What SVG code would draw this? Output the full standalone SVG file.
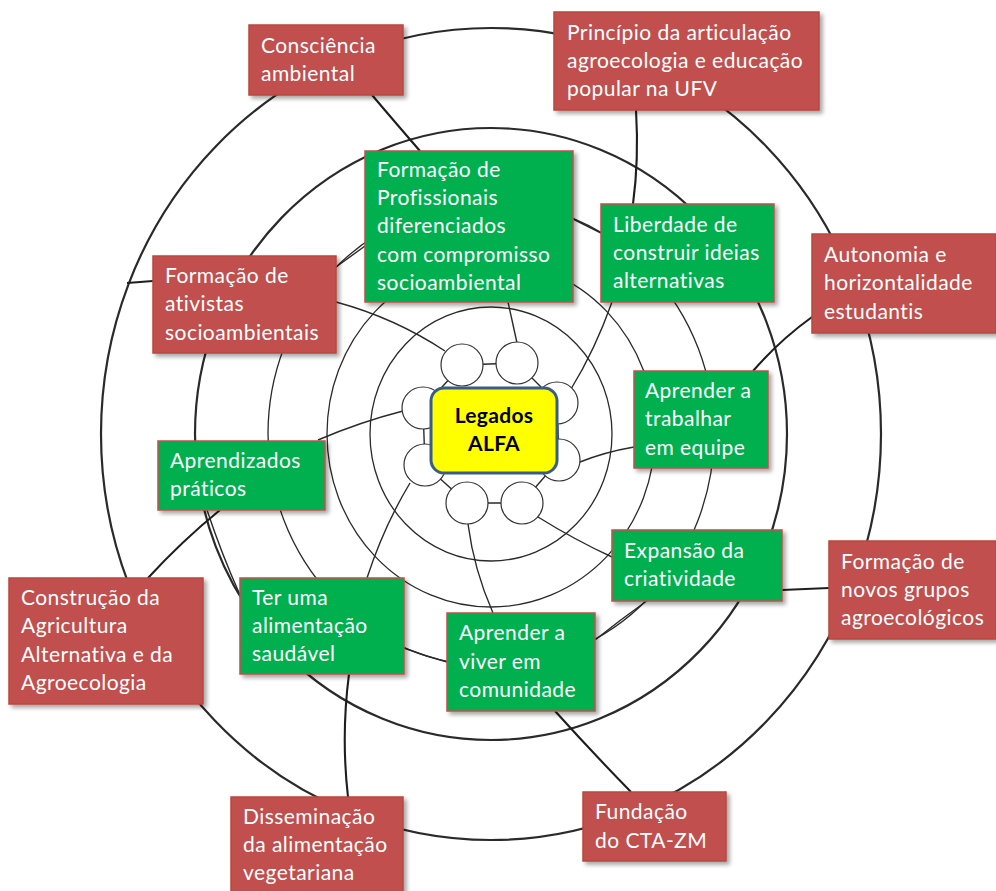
<svg xmlns="http://www.w3.org/2000/svg" width="996" height="891" viewBox="0 0 996 891">
  <defs>
    <filter id="shadow" x="-10%" y="-10%" width="130%" height="140%">
      <feDropShadow dx="3" dy="3" stdDeviation="2" flood-color="#000" flood-opacity="0.35"/>
    </filter>
    <style>
      .ring { fill: none; stroke: #2a2a2a; }
      .thin { stroke-width: 1.3; }
      .thick { stroke-width: 2.2; }
      .link { fill: none; stroke: #2a2a2a; stroke-width: 1.4; }
      .link-strong { fill: none; stroke: #1e1e1e; stroke-width: 2.1; }
      .dot { fill: #ffffff; stroke: #333333; stroke-width: 1.2; }
      .red rect { fill: #C0504D; stroke: #B9473F; stroke-width: 1.5; filter: url(#shadow); }
      .green rect { fill: #00B050; stroke: #C0504D; stroke-width: 1.5; filter: url(#shadow); }
      .red text, .green text { fill: #ffffff; font-family: Lato, "Liberation Sans", sans-serif; font-size: 21px; letter-spacing: 0.45px; }
      .core rect { fill: #FFFF00; stroke: #385D8A; stroke-width: 3; }
      .core text { fill: #000000; font-family: Lato, "Liberation Sans", sans-serif; font-size: 21px; font-weight: bold; text-anchor: middle; letter-spacing: 0.3px; }
    </style>
  </defs>

  <rect width="996" height="891" fill="#ffffff"/>

  <!-- concentric rings -->
  <g id="rings">
    <ellipse class="ring thin" cx="491" cy="434" rx="121" ry="127"/>
    <ellipse class="ring thin" cx="491" cy="434" rx="164" ry="173"/>
    <ellipse class="ring thin" cx="491" cy="434" rx="223" ry="232"/>
    <ellipse class="ring thick" cx="491" cy="434" rx="296" ry="306"/>
    <ellipse class="ring thick" cx="491" cy="434" rx="390" ry="406"/>
  </g>

  <!-- connectors -->
  <g id="connectors">
    <path class="link-strong" d="M372,95 Q394,121 420,151"/>
    <path class="link" d="M336,267 L365,246"/>
    <path class="link-strong" d="M127,283 L153,281"/>
    <path class="link" d="M336,302 Q395,318 445,351"/>
    <path class="link-strong" d="M636,110 Q639,160 633,204"/>
    <path class="link" d="M573,219 L601,233"/>
    <path class="link" d="M612,302 Q595,350 571,389"/>
    <path class="link-strong" d="M812,317 Q780,340 753,371"/>
    <path class="link" d="M580,462 Q605,452 634,447"/>
    <path class="link-strong" d="M782,590 L829,588"/>
    <path class="link" d="M538,517 Q575,540 612,557"/>
    <path class="link" d="M648,600 Q620,620 595,640"/>
    <path class="link" d="M468,524 Q474,570 493,613"/>
    <path class="link-strong" d="M555,711 Q592,752 631,792"/>
    <path class="link" d="M404,648 Q425,656 447,662"/>
    <path class="link" d="M410,483 Q384,526 367,578"/>
    <path class="link-strong" d="M349,674 Q341,736 348,797"/>
    <path class="link" d="M207,510 Q222,555 240,595"/>
    <path class="link-strong" d="M220,510 Q182,541 148,578"/>
    <path class="link" d="M403,411 Q360,422 318,440"/>
    <path class="link" d="M517,343 Q512,320 508,302"/>
  </g>

  <!-- ring of small circles around the core -->
  <g id="hub">
    <path class="link" d="M462,365 L517,363 L557,403 L559,460 L522,503 L467,503 L425,465 L423,408 Z"/>
    <circle class="dot" cx="462" cy="365" r="21"/>
    <circle class="dot" cx="517" cy="363" r="21"/>
    <circle class="dot" cx="557" cy="403" r="21"/>
    <circle class="dot" cx="559" cy="460" r="21"/>
    <circle class="dot" cx="522" cy="503" r="21"/>
    <circle class="dot" cx="467" cy="503" r="21"/>
    <circle class="dot" cx="425" cy="465" r="21"/>
    <circle class="dot" cx="423" cy="408" r="21"/>
  </g>

  <g id="core" class="core">
    <rect x="431" y="388" width="126" height="85" rx="13"/>
    <text x="494" y="423">Legados</text>
    <text x="494" y="451">ALFA</text>
  </g>

  <!-- inner nodes -->
  <g id="g-profissionais" class="green">
    <rect x="365" y="151" width="208" height="151"/>
    <text x="377" y="177">Formação de</text>
    <text x="377" y="205">Profissionais</text>
    <text x="377" y="233">diferenciados</text>
    <text x="377" y="262">com compromisso</text>
    <text x="377" y="290">socioambiental</text>
  </g>
  <g id="g-liberdade" class="green">
    <rect x="601" y="204" width="173" height="98"/>
    <text x="613" y="231.5">Liberdade de</text>
    <text x="613" y="260">construir ideias</text>
    <text x="613" y="288">alternativas</text>
  </g>
  <g id="g-equipe" class="green">
    <rect x="634" y="371" width="134" height="97"/>
    <text x="645" y="398">Aprender a</text>
    <text x="645" y="426">trabalhar</text>
    <text x="645" y="455">em equipe</text>
  </g>
  <g id="g-criatividade" class="green">
    <rect x="612" y="530" width="170" height="71"/>
    <text x="624" y="558">Expansão da</text>
    <text x="624" y="586">criatividade</text>
  </g>
  <g id="g-comunidade" class="green">
    <rect x="447" y="613" width="148" height="98"/>
    <text x="459" y="640">Aprender a</text>
    <text x="459" y="669">viver em</text>
    <text x="459" y="697">comunidade</text>
  </g>
  <g id="g-alimentacao" class="green">
    <rect x="240" y="578" width="164" height="96"/>
    <text x="252" y="604.5">Ter uma</text>
    <text x="252" y="633">alimentação</text>
    <text x="252" y="661">saudável</text>
  </g>
  <g id="g-aprendizados" class="green">
    <rect x="158" y="441" width="167" height="69"/>
    <text x="170" y="467.5">Aprendizados</text>
    <text x="170" y="496">práticos</text>
  </g>

  <!-- outer nodes -->
  <g id="r-consciencia" class="red">
    <rect x="249" y="25" width="154" height="70"/>
    <text x="261" y="53">Consciência</text>
    <text x="261" y="81">ambiental</text>
  </g>
  <g id="r-principio" class="red">
    <rect x="554" y="12" width="265" height="98"/>
    <text x="567" y="39.5">Princípio da articulação</text>
    <text x="567" y="68">agroecologia e educação</text>
    <text x="567" y="96">popular na UFV</text>
  </g>
  <g id="r-autonomia" class="red">
    <rect x="812" y="234" width="184" height="99"/>
    <text x="824" y="262">Autonomia e</text>
    <text x="824" y="290">horizontalidade</text>
    <text x="824" y="318.5">estudantis</text>
  </g>
  <g id="r-grupos" class="red">
    <rect x="829" y="541" width="167" height="98"/>
    <text x="841" y="568.5">Formação de</text>
    <text x="841" y="597">novos grupos</text>
    <text x="841" y="625">agroecológicos</text>
  </g>
  <g id="r-cta" class="red">
    <rect x="583" y="792" width="143" height="69"/>
    <text x="595" y="819">Fundação</text>
    <text x="595" y="847.5">do CTA-ZM</text>
  </g>
  <g id="r-vegetariana" class="red">
    <rect x="231" y="797" width="172" height="100"/>
    <text x="243" y="824">Disseminação</text>
    <text x="243" y="852">da alimentação</text>
    <text x="243" y="880">vegetariana</text>
  </g>
  <g id="r-agroecologia" class="red">
    <rect x="9" y="578" width="194" height="126"/>
    <text x="21" y="605">Construção da</text>
    <text x="21" y="633">Agricultura</text>
    <text x="21" y="662">Alternativa e da</text>
    <text x="21" y="690">Agroecologia</text>
  </g>
  <g id="r-ativistas" class="red">
    <rect x="153" y="256" width="183" height="97"/>
    <text x="165" y="283">Formação de</text>
    <text x="165" y="311">ativistas</text>
    <text x="165" y="339.5">socioambientais</text>
  </g>
</svg>
